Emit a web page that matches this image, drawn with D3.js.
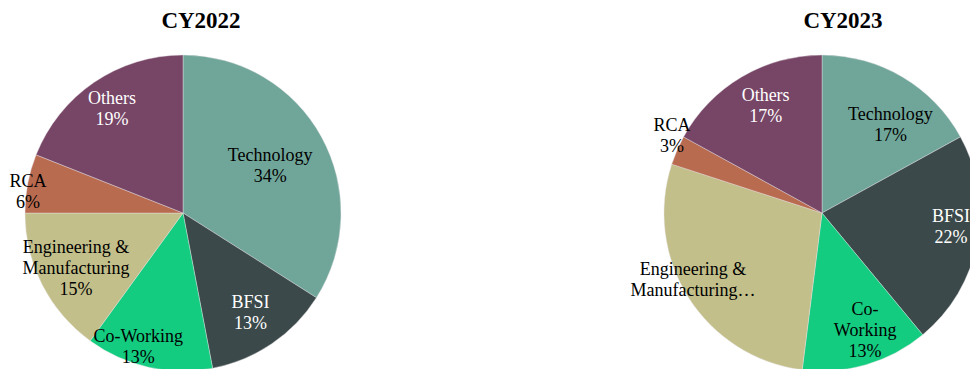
<!DOCTYPE html>
<html>
<head>
<meta charset="utf-8">
<script src="https://cdn.jsdelivr.net/npm/d3@7"></script>
<style>
  html, body { margin: 0; padding: 0; background: #fff; }
  svg { display: block; }
</style>
</head>
<body>
<div id="chart"></div>
<script>
// sector share of leasing, two years side by side
const categories = ["Technology", "BFSI", "Co-Working", "Engineering & Manufacturing", "RCA", "Others"];
const values2022 = [34, 13, 13, 15, 6, 19];
const values2023 = [17, 22, 13, 28, 3, 17];
const titles = ["CY2022", "CY2023"];

// label text as it appears on each slice (lines)
const labels2022 = [
  ["Technology", "34%"],
  ["BFSI", "13%"],
  ["Co-Working", "13%"],
  ["Engineering &", "Manufacturing", "15%"],
  ["RCA", "6%"],
  ["Others", "19%"]
];
const labels2023 = [
  ["Technology", "17%"],
  ["BFSI", "22%"],
  ["Co-", "Working", "13%"],
  ["Engineering &", "Manufacturing…"],
  ["RCA", "3%"],
  ["Others", "17%"]
];

const colors = ["#70a699", "#3b494a", "#14cc80", "#c3bf8a", "#b96b50", "#774566"];
const lightText = ["BFSI", "Others"];

const width = 970, height = 369;
const radius = 158;

// layout: pie centres, title positions and how far out each label sits
const panels = [
  { title: titles[0], values: values2022, labels: labels2022, cx: 183, cy: 213, tx: 201,
    labelR: [0.63, 0.76, 0.89, 0.76, 0.99, 0.80], labelRot: [0, 0, 6, 0, -3, 0] },
  { title: titles[1], values: values2023, labels: labels2023, cx: 822, cy: 213, tx: 843,
    labelR: [0.71, 0.82, 0.79, 0.92, 1.07, 0.77], labelRot: [7, -5, -4, 5, 4, 3] }
];

const color = d3.scaleOrdinal().domain(categories).range(colors);

const svg = d3.select("#chart")
  .append("svg")
  .attr("width", width)
  .attr("height", height);

const pie = d3.pie().sort(null).value((d) => d.value);
const arc = d3.arc().innerRadius(0).outerRadius(radius);

panels.forEach((p) => {
  const data = categories.map((c, i) => ({ name: c, value: p.values[i], lines: p.labels[i] }));
  const arcs = pie(data);

  svg.append("text")
    .attr("x", p.tx)
    .attr("y", 28)
    .attr("text-anchor", "middle")
    .style("font-family", "'Liberation Serif', 'Times New Roman', serif")
    .style("font-weight", "bold")
    .style("font-size", "23px")
    .text(p.title);

  const g = svg.append("g").attr("transform", `translate(${p.cx},${p.cy})`);

  g.selectAll("path")
    .data(arcs)
    .join("path")
    .attr("d", arc)
    .attr("fill", (d) => color(d.data.name))
    .attr("stroke", "#e8e4e8")
    .attr("stroke-width", 0.4);

  // labels, placed along each slice's mid angle
  const lab = g.selectAll("g.lab")
    .data(arcs)
    .join("g")
    .attr("class", "lab")
    .attr("transform", (d, i) => {
      const a = (d.startAngle + d.endAngle) / 2 + (p.labelRot[i] * Math.PI) / 180;
      const r = radius * p.labelR[i];
      return `translate(${r * Math.sin(a)},${-r * Math.cos(a)})`;
    });

  const lineH = 21;
  lab.append("text")
    .attr("text-anchor", "middle")
    .style("font-family", "'Liberation Serif', 'Times New Roman', serif")
    .style("font-size", "18px")
    .attr("fill", (d) => (lightText.includes(d.data.name) ? "#ffffff" : "#000000"))
    .each(function (d) {
      const n = d.data.lines.length;
      d3.select(this)
        .selectAll("tspan")
        .data(d.data.lines)
        .join("tspan")
        .attr("x", 0)
        .attr("y", (t, k) => (k - (n - 1) / 2) * lineH + 6)
        .text((t) => t);
    });
});
</script>
</body>
</html>
